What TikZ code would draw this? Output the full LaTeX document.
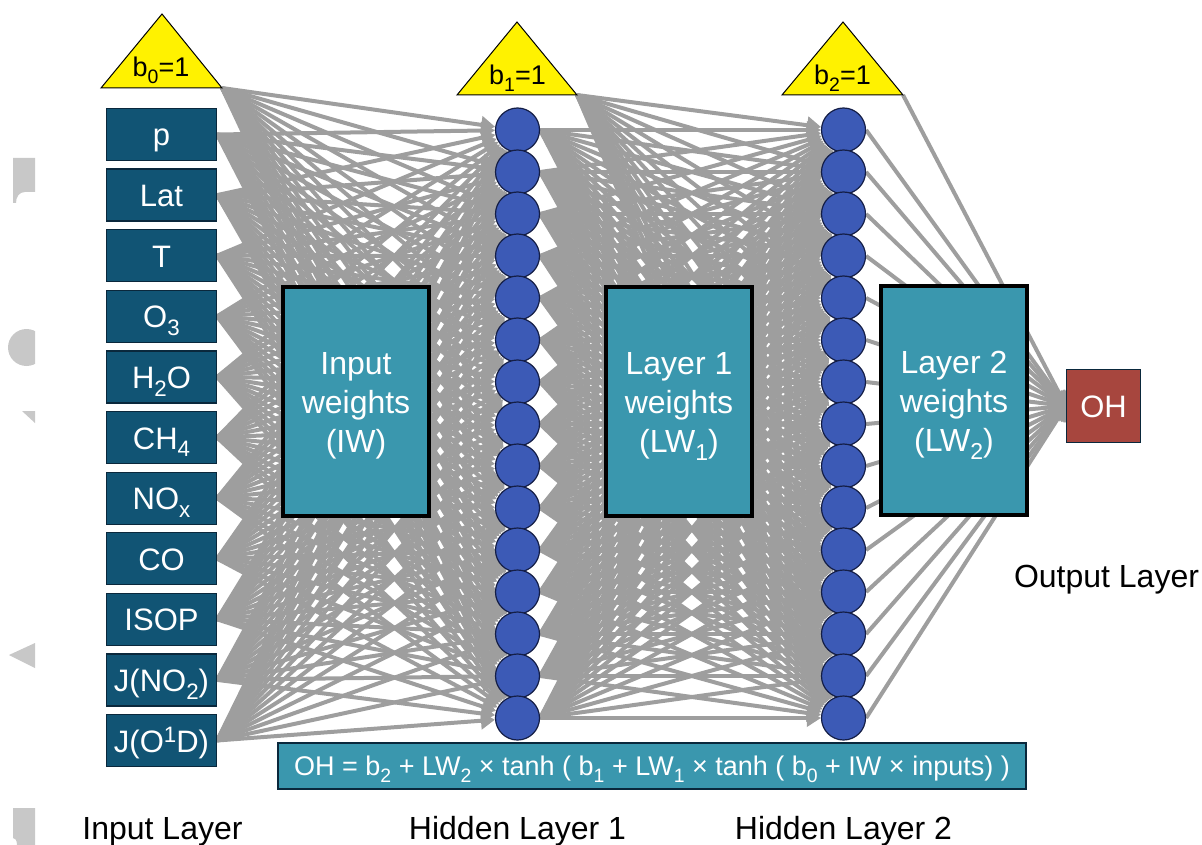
\documentclass[tikz,border=0pt]{standalone}
\usepackage{fontspec}
\setmainfont{Liberation Sans}
\usepackage{graphicx}
\usetikzlibrary{arrows.meta}
\pgfdeclarelayer{background}
\pgfsetlayers{background,main}
\newcommand\sbs[1]{\raisebox{-0.25em}{\scalebox{0.72}{#1}}}
\newcommand\sps[1]{\raisebox{0.32em}{\scalebox{0.72}{#1}}}
\definecolor{inblue}{RGB}{17,84,116}
\definecolor{inborder}{RGB}{10,40,60}
\definecolor{wteal}{RGB}{58,151,174}
\definecolor{ohred}{RGB}{167,70,62}
\definecolor{nblue}{RGB}{60,90,182}
\definecolor{nborder}{RGB}{20,30,70}
\definecolor{byellow}{RGB}{255,242,0}
\definecolor{conngray}{RGB}{158,158,158}
\definecolor{wmgray}{RGB}{200,200,200}
\begin{document}
\begin{tikzpicture}[x=1pt,y=-1pt,
  inbox/.style={draw=inborder, line width=1.2pt, fill=inblue, minimum width=110pt, minimum height=52pt, inner sep=0pt, text=white, font=\fontsize{31}{36}\selectfont, text height=23pt, text depth=0pt},
  neuron/.style={circle, draw=nborder, line width=1.2pt, fill=nblue, minimum size=44pt, inner sep=0pt},
  wbox/.style={draw=black, line width=4pt, fill=wteal, minimum width=146pt, minimum height=229pt, inner sep=0pt},
  wtext/.style={text=white, align=center, font=\fontsize{32}{39}\selectfont, inner sep=0pt},
  tri/.style={draw=black, line width=1pt, fill=byellow, line join=miter},
  tritext/.style={anchor=base, font=\fontsize{27}{32}\selectfont, inner sep=0pt},
  ohbox/.style={draw=inborder, line width=1.2pt, fill=ohred, minimum width=74pt, minimum height=73pt, inner sep=0pt, text=white, font=\fontsize{31}{36}\selectfont, text height=22pt, text depth=0pt},
  fbox/.style={draw=inborder, line width=1.5pt, fill=wteal, minimum width=748pt, minimum height=46pt, inner sep=0pt, text=white, font=\fontsize{27}{32}\selectfont, text height=19.5pt, text depth=0pt},
  lbl/.style={anchor=base, font=\fontsize{32}{38}\selectfont, inner sep=0pt},
  conn/.style={draw=conngray, line width=4pt, -{Triangle[length=14pt,width=17pt]}},
  wm/.style={fill=wmgray, draw=none}
]
\useasboundingbox (0,0) rectangle (1202,845);

% watermark fragments at the left edge
\fill[wm] (13,158) -- (35,158) -- (35,192) -- (25,192) .. controls (19,192) and (16,197) .. (16,203) -- (13,203) -- cycle;
\begin{scope}
  \clip (0,320) rectangle (35,375);
  \fill[wm] (26.5,347.5) circle (18.5pt);
\end{scope}
\fill[wm] (22,411) -- (35,411) -- (35,423) -- cycle;
\fill[wm] (9,655) -- (35,643) -- (35,668) -- cycle;
\fill[wm] (13,808) -- (35,808) -- (35,845) -- (17,845) .. controls (17,840) and (15,838) .. (13,838) -- cycle;

% input boxes
\foreach \lab [count=\i] in {{p},{Lat},{T},{O\sbs{3}},{H\sbs{2}O},{CH\sbs{4}},{NO\sbs{x}},{CO},{ISOP},{J(NO\sbs{2})},{J(O\sps{1}D)}}
  \node[inbox] (in\i) at (161.5,{134.5+60.6*(\i-1)}) {\lab};

% bias triangles
\draw[tri] (162,14) -- (222,88) -- (101,88) -- cycle;
\coordinate (b0c) at (222,88);
\node[tritext] (b0) at (161,77) {b\sbs{0}=1};
\draw[tri] (517,22) -- (577,95) -- (457,95) -- cycle;
\coordinate (b1c) at (577,95);
\node[tritext] (b1) at (517.5,85) {b\sbs{1}=1};
\draw[tri] (843,22) -- (903,95) -- (782,95) -- cycle;
\coordinate (b2c) at (903,95);
\node[tritext] (b2) at (842.5,85) {b\sbs{2}=1};

% hidden neurons
\foreach \j in {1,...,15} {
  \node[neuron] (ha\j) at (517.5,{130+42*(\j-1)}) {};
  \node[neuron] (hb\j) at (843.5,{130+42*(\j-1)}) {};
}

% output
\node[ohbox] (oh) at (1103.5,406) {OH};

% connectors
\begin{pgfonlayer}{background}
  \foreach \i in {1,...,11}
    \foreach \j in {1,...,15}
      \draw[conn] (in\i.east) -- (ha\j);
  \foreach \j in {1,...,15}
    \draw[conn] (b0c) -- (ha\j);
  \foreach \i in {1,...,15}
    \foreach \j in {1,...,15}
      \draw[conn] (ha\i.east) -- (hb\j);
  \foreach \j in {1,...,15}
    \draw[conn] (b1c) -- (hb\j);
  \foreach \i in {1,...,15}
    \draw[conn] (hb\i.east) -- (oh.west);
  \draw[conn] (b2c) -- (oh.west);
\end{pgfonlayer}

% weight boxes
\node[wbox] (iw) at (356,401) {};
\node[wtext] (iwt) at (356,406) {Input\\weights\\(IW)};
\node[wbox] (lw1) at (679,401) {};
\node[wtext] (lw1t) at (679,406) {Layer 1\\weights\\(LW\sbs{1})};
\node[wbox] (lw2) at (954,400) {};
\node[wtext] (lw2t) at (954,405) {Layer 2\\weights\\(LW\sbs{2})};

% formula
\node[fbox] (eq) at (652,766) {OH = b\sbs{2} + LW\sbs{2} × tanh ( b\sbs{1} + LW\sbs{1} × tanh ( b\sbs{0} + IW × inputs) )};

% layer labels
\node[lbl] (lin) at (162.5,839) {Input Layer};
\node[lbl] (lh1) at (517.5,839) {Hidden Layer 1};
\node[lbl] (lh2) at (843.5,839) {Hidden Layer 2};
\node[lbl] (lout) at (1106.5,587) {Output Layer};
\end{tikzpicture}
\end{document}
